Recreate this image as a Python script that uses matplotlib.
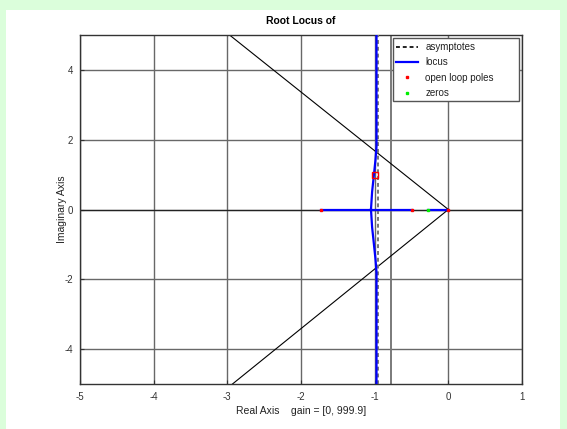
import matplotlib
matplotlib.use("Agg")
import matplotlib.pyplot as plt
from matplotlib.patches import Rectangle

plt.rcParams['font.family'] = ['Liberation Sans', 'DejaVu Sans']
plt.rcParams['axes.unicode_minus'] = False

# ---- data ----
poles_re = [-1.73, -0.5, 0.0]
poles_im = [0.0, 0.0, 0.0]
zeros_re = [-0.27]
zeros_im = [0.0]
marked_re = [-1.0]
marked_im = [1.0]

# real-axis locus segments
seg1_re = [-1.73, -0.5]
seg1_im = [0.0, 0.0]
seg2_re = [-0.27, 0.0]
seg2_im = [0.0, 0.0]

# complex branches
up_re = [-1.05, -1.035, -1.01, -0.99, -0.975, -0.975]
up_im = [0.0, 0.5, 1.0, 1.4, 1.8, 5.2]
lo_re = [-1.05, -1.035, -1.01, -0.99, -0.975, -0.975]
lo_im = [0.0, -0.5, -1.0, -1.4, -1.8, -5.2]

# asymptote
asym_re = [-0.96, -0.96]
asym_im = [-5.2, 5.2]

# extra vertical line
vline_x = -0.78

# damping lines
dline_up_re = [0.0, -2.97]
dline_up_im = [0.0, 5.0]
dline_lo_re = [0.0, -2.93]
dline_lo_im = [0.0, -5.0]

xticks = [-5, -4, -3, -2, -1, 0, 1]
yticks = [-4, -2, 0, 2, 4]

# ---- figure ----
fig = plt.figure(figsize=(5.67, 4.29), dpi=100)
fig.patch.set_facecolor('#dbfedb')
bg = Rectangle((6/567, 0), (560-6)/567, (429-10)/429,
               transform=fig.transFigure, facecolor='white',
               edgecolor='none', zorder=-10)
fig.add_artist(bg)

ax = fig.add_axes([80/567, 1-384/429, (522-80)/567, (384-35)/429])
ax.set_zorder(1)
ax.set_xlim(-5, 1)
ax.set_ylim(-5, 5)
ax.set_xticks(xticks)
ax.set_yticks(yticks)
ax.tick_params(direction='in', length=3, labelsize=7, colors='#333333')
ax.tick_params(axis='x', pad=6)
ax.tick_params(axis='y', pad=5)
ax.grid(True, color='#686868', linewidth=1.0)
ax.set_axisbelow(True)
for s in ax.spines.values():
    s.set_color('#333333')
    s.set_linewidth(1.0)

ax.axhline(0, color='#222222', linewidth=0.9, zorder=1)
ax.axvline(vline_x, color='#7a7a7a', linewidth=1.4, zorder=1)
ax.plot(dline_up_re, dline_up_im, color='black', linewidth=0.8, zorder=2)
ax.plot(dline_lo_re, dline_lo_im, color='black', linewidth=0.8, zorder=2)

h_asym, = ax.plot(asym_re, asym_im, linestyle='--', color='#777777',
                  linewidth=1.4, dashes=(2, 1.5), zorder=3, label='asymptotes')
h_loc, = ax.plot(seg1_re, seg1_im, color='#0000ff', linewidth=1.6, zorder=4,
                 label='locus')
ax.plot(seg2_re, seg2_im, color='#0000ff', linewidth=1.6, zorder=4)
ax.plot(up_re, up_im, color='#0000ff', linewidth=1.6, zorder=4)
ax.plot(lo_re, lo_im, color='#0000ff', linewidth=1.6, zorder=4)

h_p, = ax.plot(poles_re, poles_im, linestyle='none', marker='s', markersize=1.6,
               color='#ff0000', zorder=5, label='open loop poles')
h_z, = ax.plot(zeros_re, zeros_im, linestyle='none', marker='s', markersize=1.8,
               color='#00ee00', zorder=5, label='zeros')
ax.plot(marked_re, marked_im, linestyle='none', marker='s', markersize=4.5,
        markerfacecolor='none', markeredgecolor='#ff0000', markeredgewidth=1.0,
        zorder=6)

# legend box (Octave style, with extra right padding)
lx0, ly0 = (393-80)/442, (384-101)/349
lx1, ly1 = (519-80)/442, (384-38)/349
box = Rectangle((lx0, ly0), lx1-lx0, ly1-ly0, transform=ax.transAxes,
                facecolor='white', edgecolor='#555555', linewidth=1.0, zorder=7)
ax.add_patch(box)
leg = ax.legend(handles=[h_asym, h_loc, h_p, h_z], loc='upper left',
                fontsize=7, frameon=False, borderpad=0.0, labelspacing=0.55,
                handlelength=2.3, handletextpad=0.7, borderaxespad=0.0,
                bbox_to_anchor=(lx0 + 3/442, ly1 - 4/349))
leg.set_zorder(8)
leg.legend_handles[0].set_color('#222222')
for t in leg.get_texts():
    t.set_color('#222222')

ax.set_title('Root Locus of', fontsize=7.5, fontweight='bold', pad=8)
ax.set_xlabel('Real Axis    gain = [0, 999.9]', fontsize=7.5, labelpad=3,
              color='#222222')
ax.set_ylabel('Imaginary Axis', fontsize=7.5, color='#222222')
ax.yaxis.set_label_coords(-(80-67)/442, 0.5)

fig.savefig('out.png', dpi=100, facecolor=fig.get_facecolor())
